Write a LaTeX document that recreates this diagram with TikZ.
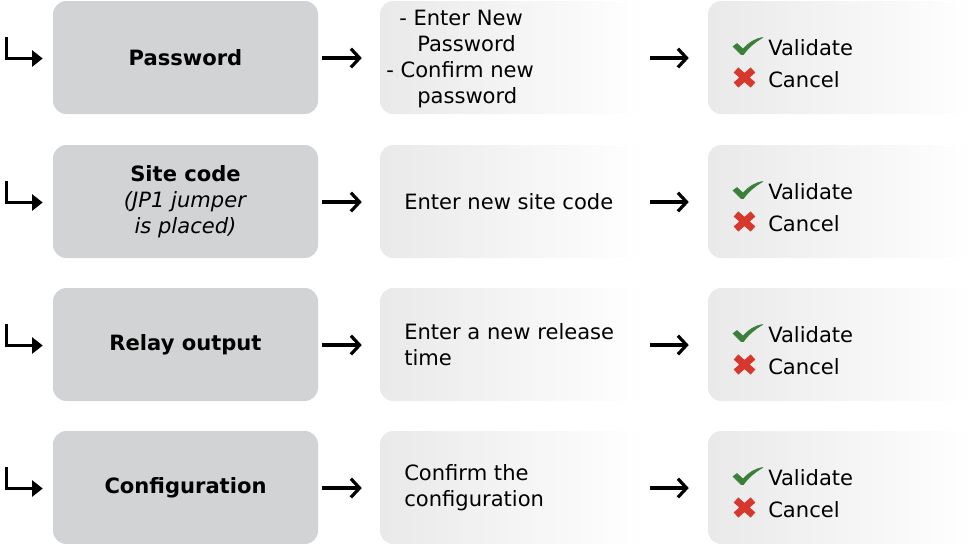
\documentclass[tikz,border=0pt]{standalone}
\usepackage{fontspec}
\setmainfont{DejaVu Sans}
\usetikzlibrary{arrows.meta}
\definecolor{boxgray}{HTML}{D1D3D4}
\definecolor{fadeA}{HTML}{E9E9E9}
\definecolor{fadeB}{HTML}{FFFFFF}
\definecolor{okgreen}{HTML}{3A7F3A}
\definecolor{nored}{HTML}{D8372E}
\begin{document}
\begin{tikzpicture}[x=0.75pt,y=-0.75pt,
  txt/.style={font=\fontsize{15.8}{19.5}\selectfont, inner sep=0pt},
  graybox/.style={fill=boxgray, rounded corners=10pt, minimum width=198.75pt, minimum height=84.75pt, inner sep=0pt, align=center, font=\fontsize{15.8}{19.5}\selectfont},
  fadebox/.style={left color=fadeA, right color=fadeB, rounded corners=10pt, minimum width=198.75pt, minimum height=84.75pt, inner sep=0pt},
  endbox/.style={left color=fadeA, right color=fadeB, rounded corners=10pt, minimum width=199.5pt, minimum height=84.75pt, inner sep=0pt},
  hookarrow/.style={line width=2.4pt, -{Triangle[length=8pt,width=12pt]}},
  steparrow/.style={line width=2.4pt, -{Straight Barb[length=6.5pt,width=14pt]}},
  okmark/.style={fill=okgreen, draw=okgreen, line width=0.4pt, line join=round},
  nomark/.style={draw=nored, line width=5.2pt},
]
\useasboundingbox (0,0) rectangle (974,543);

% rows
\foreach \r/\c in {1/57.5, 2/201.5, 3/344.5, 4/487.5}{
  \node[fadebox] (m\r) at (512.5,\c) {};
  \node[endbox] (e\r) at (841,\c) {};
}
\node[graybox] (g1) at (185.5,57.5) {\textbf{Password}};
\node[graybox] (g2) at (185.5,201.5) {\textbf{Site code}\\\textit{(JP1 jumper}\\\textit{is placed)}};
\node[graybox] (g3) at (185.5,344.5) {\textbf{Relay output}};
\node[graybox] (g4) at (185.5,487.5) {\textbf{Configuration}};

% middle texts
\node[txt, anchor=west, align=left] (t1) at (386,59) {\hspace{9.75pt}- Enter New\\\hspace{23.25pt}Password\\- Confirm new\\\hspace{23.25pt}password};
\node[txt, anchor=west, align=left] (t2) at (404,201.5) {Enter new site code};
\node[txt, anchor=west, align=left] (t3) at (404,345) {Enter a new release\\time};
\node[txt, anchor=west, align=left] (t4) at (404,488) {Confirm the\\configuration};

% validate / cancel
\foreach \r/\c in {1/57.5, 2/201.5, 3/344.5, 4/487.5}{
  \node[txt, anchor=west] (v\r) at (768,\c-10) {Validate};
  \node[txt, anchor=west] (k\r) at (768,\c+22) {Cancel};
  % check mark icon
  \path[okmark] (733,\c-11) -- (737,\c-14) -- (743,\c-8.5) .. controls (749,\c-15) and (755,\c-19) .. (763,\c-20)
     .. controls (754,\c-15) and (748,\c-9) .. (743.5,\c-3) -- (741,\c-3) -- cycle;
  % cross icon
  \draw[nomark] (736,\c+12.5) -- (753,\c+27.5) (753,\c+12.5) -- (736,\c+27.5);
  % connectors
  \draw[hookarrow] ([shift={(-46,-21)}]g\r.west) |- ([shift={(-10,1)}]g\r.west);
  \draw[steparrow, shorten <=3pt, shorten >=13.5pt] ([yshift=-0.4pt]g\r.east) -- ([yshift=-0.4pt]m\r.west);
  \draw[steparrow, shorten <=3.75pt, shorten >=14.25pt] ([yshift=-0.4pt]m\r.east) -- ([yshift=-0.4pt]e\r.west);
}
\end{tikzpicture}
\end{document}
